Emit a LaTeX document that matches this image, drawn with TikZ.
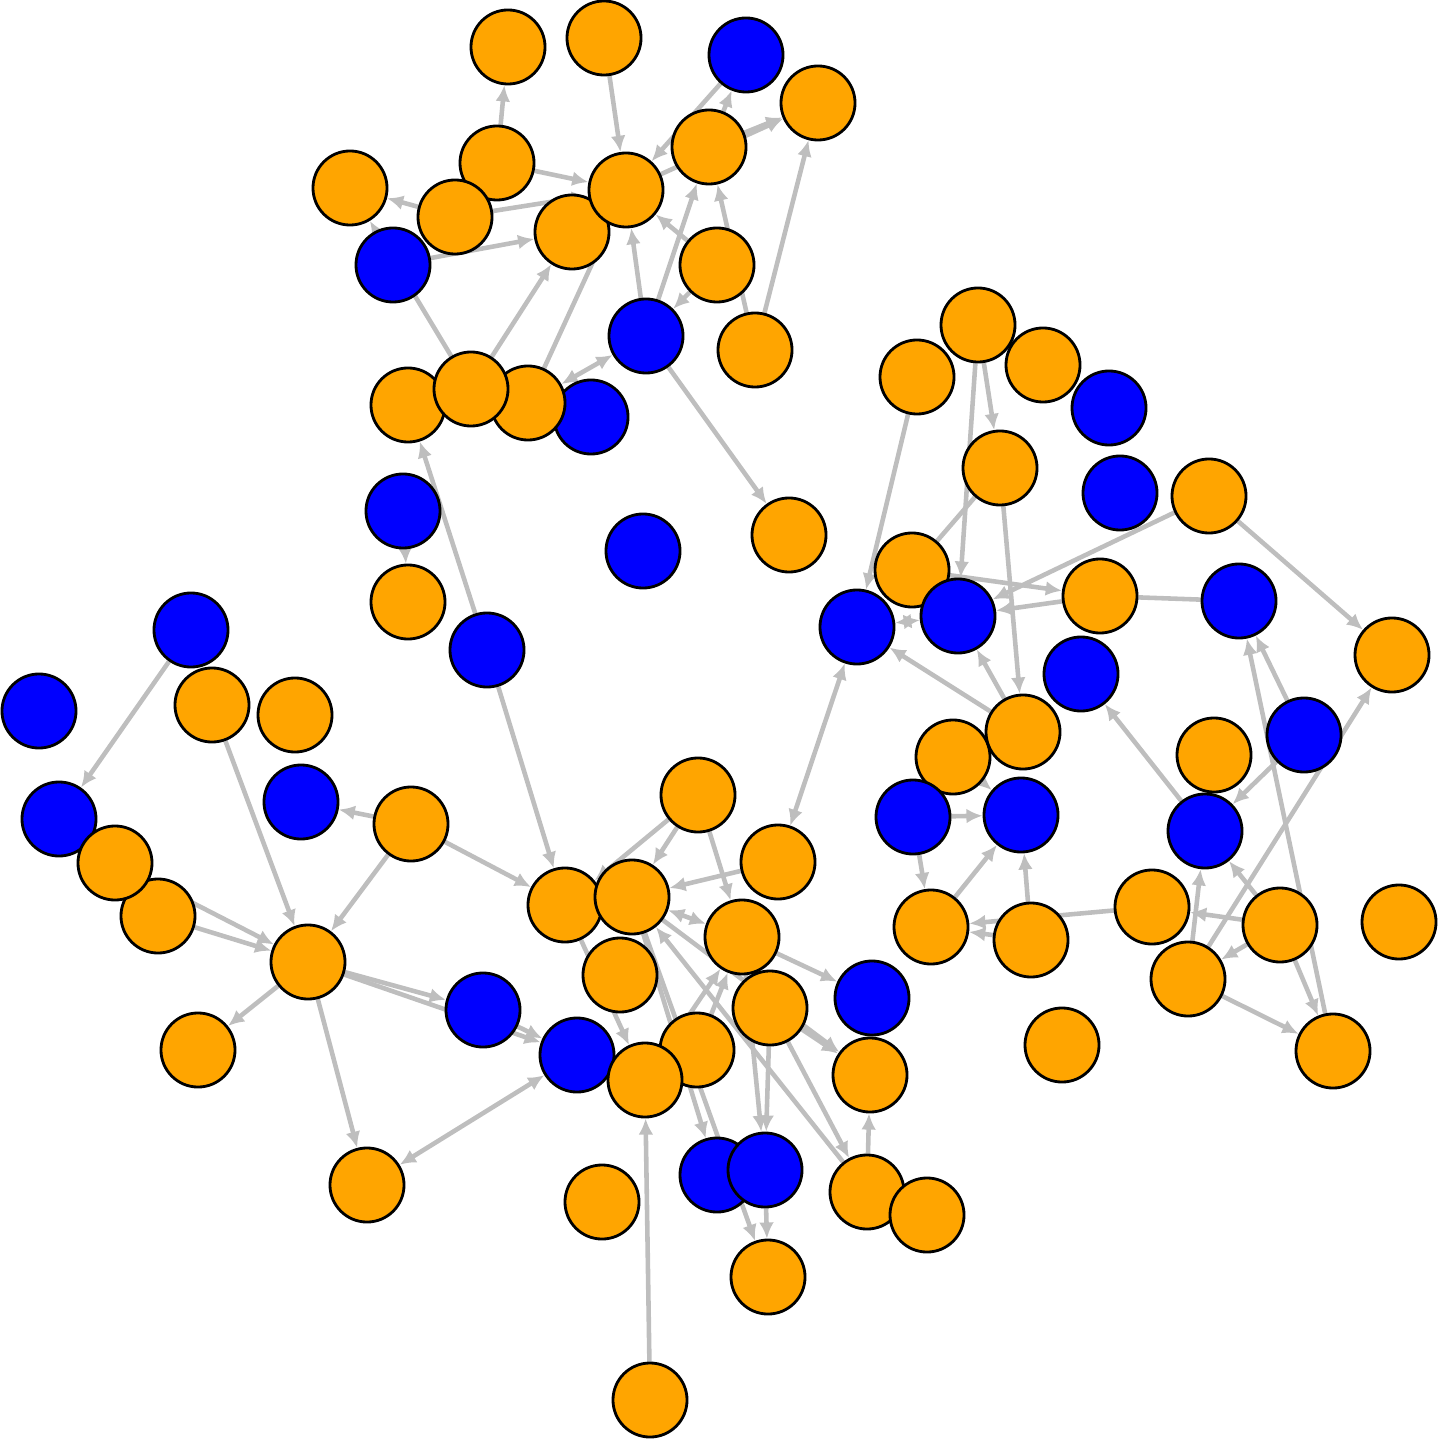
\documentclass[tikz,border=0pt]{standalone}
\usetikzlibrary{arrows.meta,backgrounds}
\definecolor{nodeorange}{HTML}{FFA500}
\definecolor{nodeblue}{HTML}{0000FF}
\definecolor{edgegray}{HTML}{BEBEBE}
\begin{document}
\begin{tikzpicture}[x=0.01cm,y=-0.01cm,>={Latex[length=4.6pt,width=4.2pt]},
    every edge/.style={draw=edgegray,line width=1.3pt}]
            \useasboundingbox (0,0) rectangle (1440,1440);
            \begin{scope}[every node/.style={circle,draw=black,line width=0.8pt,inner sep=0pt,minimum size=0.74cm},
                o/.style={fill=nodeorange},b/.style={fill=nodeblue}]
                \node[o] (tA) at (508,47) {};
                \node[o] (tB) at (604,38) {};
                \node[b] (tC) at (746,55) {};
                \node[o] (tD) at (818,103) {};
                \node[o] (tE) at (497,163) {};
                \node[o] (tF) at (350,188) {};
                \node[b] (tK) at (393,265) {};
                \node[o] (tG) at (455,217) {};
                \node[o] (tI) at (709,147) {};
                \node[o] (tJ) at (572,232) {};
                \node[o] (tH) at (626,190) {};
                \node[o] (tL) at (717,265) {};
                \node[b] (tM) at (646,336) {};
                \node[o] (tN) at (755,350) {};
                \node[o] (tO) at (408,405) {};
                \node[b] (tR) at (591,417) {};
                \node[o] (tQ) at (528,403) {};
                \node[o] (tP) at (471,389) {};
                \node[b] (tS) at (403,511) {};
                \node[b] (tT) at (643,551) {};
                \node[o] (tU) at (789,535) {};
                \node[o] (tV) at (408,602) {};
                \node[b] (tW) at (487,650) {};
                \node[o] (rB) at (917,377) {};
                \node[o] (rA) at (978,325) {};
                \node[o] (rC) at (1043,365) {};
                \node[b] (rD) at (1109,408) {};
                \node[o] (rE) at (1000,468) {};
                \node[b] (rF) at (1120,493) {};
                \node[o] (rG) at (1209,496) {};
                \node[o] (rH) at (912,570) {};
                \node[b] (rK) at (857,627) {};
                \node[b] (rJ) at (958,616) {};
                \node[o] (rI) at (1100,596) {};
                \node[b] (rL) at (1239,601) {};
                \node[o] (rM) at (1392,655) {};
                \node[b] (rN) at (1081,674) {};
                \node[o] (rP) at (953,757) {};
                \node[o] (rO) at (1023,732) {};
                \node[o] (rR) at (1214,755) {};
                \node[b] (rQ) at (1304,735) {};
                \node[b] (rS) at (913,817) {};
                \node[b] (rT) at (1021,815) {};
                \node[b] (rU) at (1205,831) {};
                \node[o] (rV) at (1152,907) {};
                \node[o] (rW) at (931,927) {};
                \node[o] (rX) at (1031,940) {};
                \node[o] (rY) at (1280,925) {};
                \node[o] (rZ) at (1399,922) {};
                \node[o] (rAA) at (1188,979) {};
                \node[o] (rAB) at (1062,1045) {};
                \node[o] (rAC) at (1333,1051) {};
                \node[b] (lA) at (191,630) {};
                \node[b] (lB) at (39,711) {};
                \node[o] (lC) at (212,705) {};
                \node[o] (lD) at (295,715) {};
                \node[b] (lE) at (59,819) {};
                \node[o] (lI) at (158,916) {};
                \node[o] (lH) at (115,863) {};
                \node[b] (lF) at (301,802) {};
                \node[o] (lG) at (411,824) {};
                \node[o] (lJ) at (308,962) {};
                \node[o] (lK) at (198,1050) {};
                \node[b] (lL) at (483,1010) {};
                \node[o] (lM) at (367,1185) {};
                \node[o] (cA) at (698,795) {};
                \node[o] (cB) at (778,862) {};
                \node[o] (cC) at (565,905) {};
                \node[o] (cD) at (632,897) {};
                \node[o] (cE) at (742,937) {};
                \node[o] (cF) at (620,975) {};
                \node[o] (cG) at (770,1008) {};
                \node[b] (cH) at (872,998) {};
                \node[o] (cL) at (870,1075) {};
                \node[b] (cI) at (577,1055) {};
                \node[o] (cJ) at (697,1050) {};
                \node[o] (cK) at (645,1080) {};
                \node[b] (cM) at (717,1175) {};
                \node[b] (cN) at (765,1170) {};
                \node[o] (cO) at (602,1202) {};
                \node[o] (cP) at (867,1192) {};
                \node[o] (cQ) at (927,1215) {};
                \node[o] (cR) at (768,1277) {};
                \node[o] (cS) at (650,1400) {};
            \end{scope}
            \begin{scope}[on background layer]
            \draw (tE) edge [->] (tA);
            \draw (tB) edge [->] (tH);
            \draw (tE) edge [->] (tH);
            \draw (tG) edge [->] (tF);
            \draw (tG) edge [->] (tH);
            \draw (tK) edge [->] (tJ);
            \draw (tP) edge [->] (tF);
            \draw (tP) edge [->] (tJ);
            \draw (tQ) edge [->] (tH);
            \draw (tQ) edge [<->] (tM);
            \draw (tM) edge [->] (tH);
            \draw (tM) edge [->] (tI);
            \draw (tL) edge [->] (tM);
            \draw (tL) edge [->] (tH);
            \draw (tN) edge [->] (tI);
            \draw (tN) edge [->] (tD);
            \draw (tI) edge [->] (tD);
            \draw (tH) edge [->] (tD);
            \draw (tI) edge [->] (tC);
            \draw (tC) edge [->] (tH);
            \draw (tM) edge [->] (tU);
            \draw (tW) edge [->] (tO);
            \draw (tS) edge [->] (tV);
            \draw (tW) edge [->] (cC);
            \draw (lA) edge [->] (lE);
            \draw (lC) edge [->] (lJ);
            \draw (lG) edge [->] (lF);
            \draw (lG) edge [->] (cC);
            \draw (lG) edge [->] (lJ);
            \draw (lH) edge [->] (lJ);
            \draw (lI) edge [->] (lJ);
            \draw (lJ) edge [->] (lK);
            \draw (lJ) edge [->] (lL);
            \draw (lJ) edge [->] (cI);
            \draw (lL) edge [->] (cI);
            \draw (lJ) edge [->] (lM);
            \draw (lM) edge [<->] (cI);
            \draw (cA) edge [->] (cD);
            \draw (cA) edge [->] (cC);
            \draw (cA) edge [->] (cE);
            \draw (cB) edge [<->] (rK);
            \draw (cB) edge [->] (cD);
            \draw (cD) edge [<->] (cE);
            \draw (cE) edge [->] (cH);
            \draw (cP) edge [->] (cD);
            \draw (cD) edge [->] (cM);
            \draw (cD) edge [->] (cR);
            \draw (cD) edge [->] (cL);
            \draw (cC) edge [->] (cK);
            \draw (cJ) edge [->] (cE);
            \draw (cK) edge [->] (cE);
            \draw (cG) edge [->] (cN);
            \draw (cE) edge [->] (cN);
            \draw (cG) edge [->] (cP);
            \draw (cG) edge [->] (cL);
            \draw (cP) edge [->] (cL);
            \draw (cN) edge [->] (cR);
            \draw (cS) edge [->] (cK);
            \draw (rA) edge [->] (rJ);
            \draw (rA) edge [->] (rE);
            \draw (rE) edge [->] (rO);
            \draw (rE) edge (rH);
            \draw (rB) edge [->] (rK);
            \draw (rG) edge [->] (rJ);
            \draw (rG) edge [->] (rM);
            \draw (rL) edge (rI);
            \draw (rI) edge [->] (rJ);
            \draw (rH) edge [->] (rI);
            \draw (rK) edge [<->] (rJ);
            \draw (rO) edge [->] (rK);
            \draw (rO) edge [->] (rJ);
            \draw (rU) edge [->] (rN);
            \draw (rS) edge [->] (rT);
            \draw (rS) edge [->] (rW);
            \draw (rW) edge [->] (rT);
            \draw (rX) edge [->] (rT);
            \draw (rP) edge [->] (rT);
            \draw (rV) edge [->] (rW);
            \draw (rX) edge [->] (rW);
            \draw (rY) edge [->] (rV);
            \draw (rY) edge [->] (rU);
            \draw (rY) edge [->] (rAA);
            \draw (rAA) edge [->] (rU);
            \draw (rAA) edge [->] (rM);
            \draw (rQ) edge [->] (rU);
            \draw (rQ) edge [->] (rL);
            \draw (rAC) edge [->] (rL);
            \draw (rY) edge [->] (rAC);
            \draw (rAA) edge [->] (rAC);
            \end{scope}
        \end{tikzpicture}
\end{document}
